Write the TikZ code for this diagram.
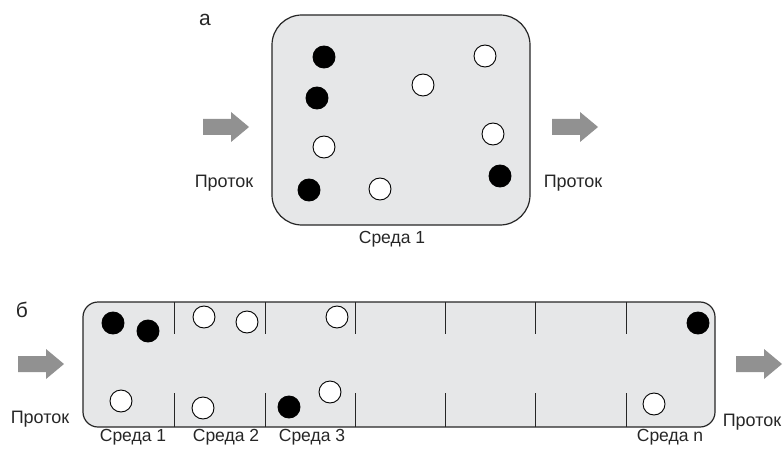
\documentclass[tikz,border=0pt]{standalone}
\usepackage{fontspec}
\setmainfont{Liberation Sans}
\begin{document}
\begin{tikzpicture}[x=1pt,y=-1pt,
  every node/.style={font=\fontsize{17.5}{20}\selectfont, text=black!85},
  panel/.style={font=\fontsize{21}{24}\selectfont},
  flowlabel/.style={font=\fontsize{18}{20}\selectfont},
  chamber/.style={draw=black!85, line width=1.2pt, fill=boxgrey, inner sep=0pt},
  bead/.style={circle, draw=black, line width=0.9pt, fill=white, minimum size=22pt, inner sep=0pt},
  blackbead/.style={bead, fill=black},
  wall/.style={draw=black!85, line width=1pt},
  flow/.style={fill=flowgrey, draw=none}]
\definecolor{boxgrey}{RGB}{230,231,232}
\definecolor{flowgrey}{RGB}{145,145,145}
\useasboundingbox (0,0) rectangle (783,457);

% ---------- (а) single well-mixed environment ----------
\node[panel] (la) at (205,20) {а};
\node[chamber, rounded corners=30pt, minimum width=258pt, minimum height=210pt] (env) at (401,120) {};

\node[blackbead] (a1) at (324,57) {};
\node[blackbead] (a2) at (317,98) {};
\node[bead]      (a3) at (324,147) {};
\node[blackbead] (a4) at (309,190) {};
\node[bead]      (a5) at (380,189) {};
\node[bead]      (a6) at (423,85) {};
\node[bead]      (a7) at (485,56) {};
\node[bead]      (a8) at (493,134) {};
\node[blackbead] (a9) at (500,176) {};

% flow arrows
\fill[flow] (203,119) -- (231,119) -- (231,112) -- (249,127) -- (231,142) -- (231,135) -- (203,135) -- cycle;
\fill[flow] (552,119) -- (580,119) -- (580,112) -- (598,127) -- (580,142) -- (580,135) -- (552,135) -- cycle;
\node[flowlabel] (inA) at (224,183) {Проток};
\node[flowlabel] (outA) at (573,183) {Проток};
\node (envA) at (392,239) {Среда 1};

% ---------- (б) chain of environments ----------
\node[panel] (lb) at (22,310) {б};
\node[chamber, rounded corners=15pt, minimum width=632pt, minimum height=125pt] (chain) at (399,364.5) {};

\foreach \x in {174,265,355,445,535,626}{
  \draw[wall] (\x,302) -- (\x,334);
  \draw[wall] (\x,393) -- (\x,427);
}

\node[blackbead] (b1) at (113,323) {};
\node[blackbead] (b2) at (148,331) {};
\node[bead]      (b3) at (121,401) {};
\node[bead]      (b4) at (204,317) {};
\node[bead]      (b5) at (247,322) {};
\node[bead]      (b6) at (203,408) {};
\node[blackbead] (b7) at (289,407) {};
\node[bead]      (b8) at (330,392) {};
\node[bead]      (b9) at (337,317) {};
\node[blackbead] (b10) at (698,323) {};
\node[bead]      (b11) at (654,404) {};

\fill[flow] (18,356) -- (46,356) -- (46,349) -- (64,364) -- (46,379) -- (46,372) -- (18,372) -- cycle;
\fill[flow] (736,356) -- (764,356) -- (764,349) -- (782,364) -- (764,379) -- (764,372) -- (736,372) -- cycle;
\node[flowlabel] (inB) at (40,419) {Проток};
\node[flowlabel] (outB) at (752,422) {Проток};

\node (s1) at (133,437) {Среда 1};
\node (s2) at (226,437) {Среда 2};
\node (s3) at (312,437) {Среда 3};
\node (sn) at (670,437) {Среда n};
\end{tikzpicture}
\end{document}
